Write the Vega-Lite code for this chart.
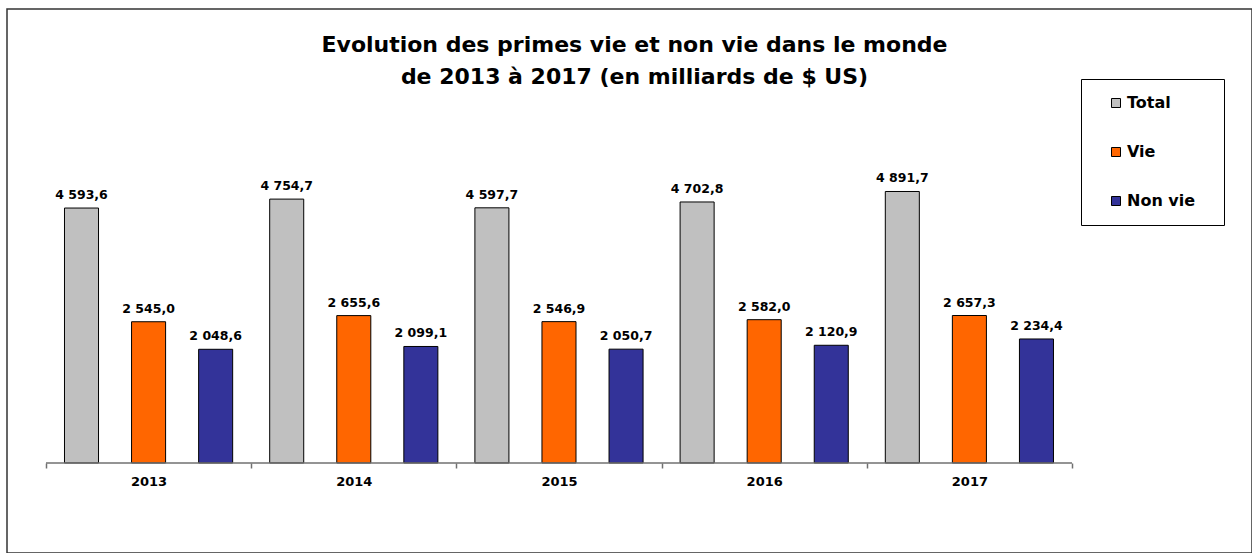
{
  "$schema": "https://vega.github.io/schema/vega-lite/v6.json",
  "width": 1245,
  "height": 544,
  "autosize": {"type": "none"},
  "padding": {"left": 7, "top": 9, "right": 0, "bottom": 0},
  "background": "white",
  "title": {
    "text": ["Evolution des primes vie et non vie dans le monde", "de 2013 à 2017 (en milliards  de $ US)"],
    "font": "DejaVu Sans",
    "fontSize": 22,
    "fontWeight": "bold",
    "color": "black",
    "anchor": "middle",
    "baseline": "top",
    "offset": 0,
    "dy": 80,
    "dx": 5,
    "lineHeight": 32
  },
  "config": {
    "view": {"stroke": "#333333", "strokeWidth": 1.5}
  },
  "data": {
    "values": [
      {"year": "2013", "serie": "Total", "value": 4593.6, "label": "4 593,6"},
      {"year": "2013", "serie": "Vie", "value": 2545.0, "label": "2 545,0"},
      {"year": "2013", "serie": "Non vie", "value": 2048.6, "label": "2 048,6"},
      {"year": "2014", "serie": "Total", "value": 4754.7, "label": "4 754,7"},
      {"year": "2014", "serie": "Vie", "value": 2655.6, "label": "2 655,6"},
      {"year": "2014", "serie": "Non vie", "value": 2099.1, "label": "2 099,1"},
      {"year": "2015", "serie": "Total", "value": 4597.7, "label": "4 597,7"},
      {"year": "2015", "serie": "Vie", "value": 2546.9, "label": "2 546,9"},
      {"year": "2015", "serie": "Non vie", "value": 2050.7, "label": "2 050,7"},
      {"year": "2016", "serie": "Total", "value": 4702.8, "label": "4 702,8"},
      {"year": "2016", "serie": "Vie", "value": 2582.0, "label": "2 582,0"},
      {"year": "2016", "serie": "Non vie", "value": 2120.9, "label": "2 120,9"},
      {"year": "2017", "serie": "Total", "value": 4891.7, "label": "4 891,7"},
      {"year": "2017", "serie": "Vie", "value": 2657.3, "label": "2 657,3"},
      {"year": "2017", "serie": "Non vie", "value": 2234.4, "label": "2 234,4"}
    ]
  },
  "layer": [
    {
      "mark": {"type": "bar", "stroke": "black", "strokeWidth": 1},
      "encoding": {
        "x": {
          "field": "year",
          "type": "nominal",
          "scale": {"paddingInner": 0, "paddingOuter": 0.5336, "align": 0.178},
          "axis": {
            "title": null,
            "domain": false,
            "tickBand": "extent",
            "ticks": true,
            "tickSize": 5,
            "tickColor": "#707070",
            "tickWidth": 1.5,
            "labelFont": "DejaVu Sans",
            "labelFontSize": 13,
            "labelFontWeight": "bold",
            "labelColor": "black",
            "labelPadding": 7,
            "labelAngle": 0,
            "offset": -90
          }
        },
        "xOffset": {
          "field": "serie",
          "type": "nominal",
          "sort": ["Total", "Vie", "Non vie"],
          "scale": {"paddingInner": 0.4925, "paddingOuter": 0.276}
        },
        "y": {
          "field": "value",
          "type": "quantitative",
          "stack": null,
          "scale": {"domain": [-1622, 8180], "nice": false, "zero": false},
          "axis": null
        },
        "y2": {"datum": 0},
        "color": {
          "field": "serie",
          "type": "nominal",
          "sort": ["Total", "Vie", "Non vie"],
          "scale": {"domain": ["Total", "Vie", "Non vie"], "range": ["#C0C0C0", "#FF6600", "#333399"]},
          "legend": {
            "title": "\u00a0",
            "titleOrient": "right",
            "titleFontSize": 16,
            "titlePadding": 13,
            "orient": "none",
            "legendX": 1074,
            "legendY": 70,
            "strokeColor": "black",
            "fillColor": "white",
            "padding": 16,
            "symbolType": "square",
            "symbolSize": 81,
            "symbolStrokeColor": "black",
            "symbolStrokeWidth": 1,
            "symbolOffset": 11,
            "labelOffset": 3,
            "labelFont": "DejaVu Sans",
            "labelFontSize": 16,
            "labelFontWeight": "bold",
            "labelColor": "black",
            "rowPadding": 33
          }
        }
      }
    },
    {
      "mark": {"type": "text", "font": "DejaVu Sans", "fontSize": 12.5, "fontWeight": "bold", "color": "black", "baseline": "alphabetic", "dy": -9},
      "encoding": {
        "x": {"field": "year", "type": "nominal"},
        "xOffset": {"field": "serie", "type": "nominal", "sort": ["Total", "Vie", "Non vie"]},
        "y": {"field": "value", "type": "quantitative", "stack": null},
        "text": {"field": "label"}
      }
    },
    {
      "data": {"values": [{"one": 1}]},
      "mark": {"type": "rule", "color": "#707070", "strokeWidth": 1.5},
      "encoding": {
        "x": {"datum": "2013", "type": "nominal", "bandPosition": 0},
        "x2": {"datum": "2017", "bandPosition": 1},
        "y": {"datum": 0, "type": "quantitative"}
      }
    }
  ]
}
